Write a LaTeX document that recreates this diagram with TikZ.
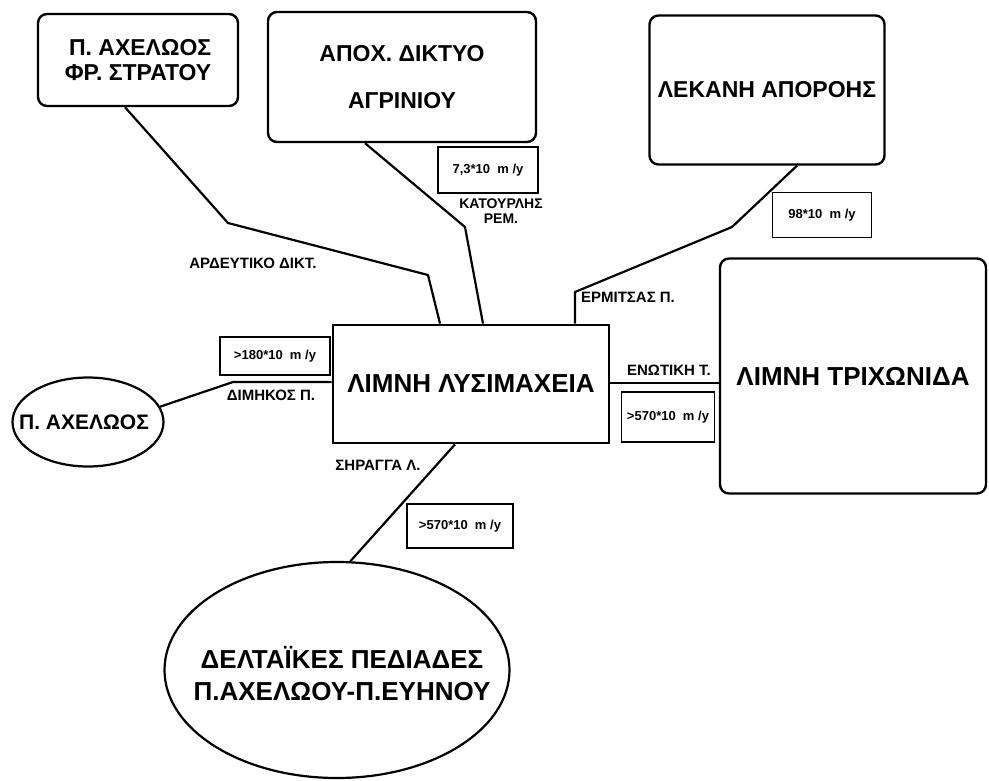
\documentclass[tikz,border=0pt]{standalone}
\usepackage{fontspec}
\setmainfont{Liberation Sans}
\usetikzlibrary{shapes.geometric}
\newcommand{\fsz}[2]{\bfseries\fontsize{#1}{#2}\selectfont}
\begin{document}
\begin{tikzpicture}[x=1pt,y=-1pt,
  box/.style={draw, line width=2.4pt, rounded corners=9pt, inner sep=0pt, align=center},
  lakebox/.style={draw, line width=2.8pt, inner sep=0pt},
  oval/.style={draw, ellipse, line width=2.2pt, inner sep=0pt},
  ovaltext/.style={inner sep=0pt, align=center},
  valbox/.style={draw, line width=1.8pt, inner sep=0pt, font=\fsz{13}{15}},
  lbl/.style={inner sep=0pt, font=\fsz{15}{13}, align=center},
  conn/.style={line width=2.2pt, line join=round}]
\useasboundingbox (0,0) rectangle (989,780);
% main boxes
\node[box, minimum width=200pt, minimum height=92pt, align=right, font=\fsz{23}{25}] (b1) at (138,60) {Π. ΑΧΕΛΩΟΣ\\ΦΡ. ΣΤΡΑΤΟΥ};
\node[box, minimum width=268pt, minimum height=130pt, font=\fsz{23}{47}] (b2) at (402,77) {ΑΠΟΧ. ΔΙΚΤΥΟ\\ΑΓΡΙΝΙΟΥ};
\node[box, minimum width=235pt, minimum height=149pt, font=\fsz{23}{27}] (b3) at (767,90) {ΛΕΚΑΝΗ ΑΠΟΡΟΗΣ};
\node[box, minimum width=266pt, minimum height=235pt, font=\fsz{26}{30}] (b4) at (853,376) {ΛΙΜΝΗ ΤΡΙΧΩΝΙΔΑ};
\node[lakebox, minimum width=276pt, minimum height=118pt, font=\fsz{26}{30}] (lake) at (471,384) {ΛΙΜΝΗ ΛΥΣΙΜΑΧΕΙΑ};
\node[oval, minimum width=151pt, minimum height=89pt] (e1) at (88,422) {};
\node[ovaltext, font=\fsz{21}{25}] (e1t) at (84,422) {Π. ΑΧΕΛΩΟΣ};
\node[oval, minimum width=345pt, minimum height=216pt] (e2) at (337,670) {};
\node[ovaltext, font=\fsz{26}{32}] (e2t) at (342,674) {ΔΕΛΤΑΪΚΕΣ ΠΕΔΙΑΔΕΣ\\Π.ΑΧΕΛΩΟΥ-Π.ΕΥΗΝΟΥ};
% value boxes
\node[valbox, minimum width=100pt, minimum height=46pt] (v1) at (488,170) {7,3*10\ \ m /y};
\node[valbox, minimum width=99pt, minimum height=45pt] (v2) at (822,215) {98*10\ \ m /y};
\node[valbox, minimum width=110pt, minimum height=38pt] (v3) at (275,356) {>180*10\ \ m /y};
\node[valbox, minimum width=93pt, minimum height=50pt] (v4) at (668,417) {>570*10\ \ m /y};
\node[valbox, minimum width=106pt, minimum height=44pt] (v5) at (460,526) {>570*10\ \ m /y};
% labels
\node[lbl] (l1) at (253,263) {ΑΡΔΕΥΤΙΚΟ ΔΙΚΤ.};
\node[lbl, font=\fsz{14}{14.5}] (l2) at (501,211) {ΚΑΤΟΥΡΛΗΣ\\ΡΕΜ.};
\node[lbl] (l3) at (628,297) {ΕΡΜΙΤΣΑΣ Π.};
\node[lbl] (l4) at (271,395) {ΔΙΜΗΚΟΣ Π.};
\node[lbl] (l5) at (669,370) {ΕΝΩΤΙΚΗ Τ.};
\node[lbl] (l6) at (378,465) {ΣΗΡΑΓΓΑ Λ.};
% bends
\coordinate (k1) at (228,223);
\coordinate (k2) at (428,275);
\coordinate (k3) at (465,227);
\coordinate (k4) at (732,227);
\coordinate (k5) at (575,292);
\coordinate (k6) at (233,382);
% connectors
\draw[conn] ([xshift=-13pt]b1.south) -- (k1) -- (k2) -- ([xshift=-31pt]lake.north);
\draw[conn] ([xshift=-37pt]b2.south) -- (k3) -- ([xshift=12pt]lake.north);
\draw[conn] ([xshift=30pt]b3.south) -- (k4) -- (k5) -- ([xshift=104pt]lake.north);
\draw[conn] ([yshift=1pt]lake.east) -- ([yshift=1pt]lake.east -| b4.west);
\draw[conn] (e1.12) -- (k6) -- (k6 -| lake.west);
\draw[conn] ([xshift=-16pt]lake.south) -- (e2.83);
\end{tikzpicture}
\end{document}
